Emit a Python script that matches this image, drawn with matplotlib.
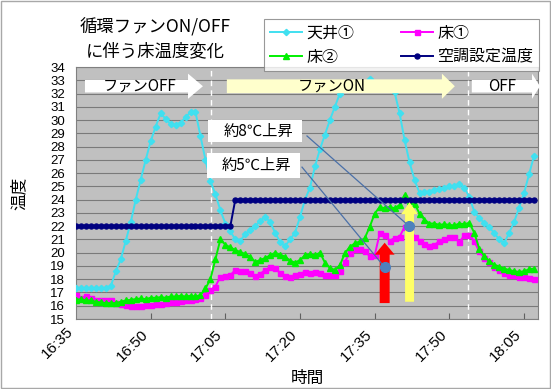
import numpy as np
import matplotlib
matplotlib.use("Agg")
import matplotlib.pyplot as plt
from matplotlib import font_manager
from matplotlib.patches import Polygon, Rectangle

plt.rcParams['font.family'] = ['Noto Sans CJK JP', 'DejaVu Sans']
installed = {f.name for f in font_manager.fontManager.ttflist}
narrow = 'Liberation Sans Narrow' if 'Liberation Sans Narrow' in installed else 'Liberation Sans'

# 1-minute readings starting 16:35
minutes = np.arange(93)
tick_minutes = [0, 15, 30, 45, 60, 75, 90]
tick_labels = ["16:35", "16:50", "17:05", "17:20", "17:35", "17:50", "18:05"]

ceiling1 = [17.3, 17.3, 17.3, 17.3, 17.3, 17.3, 17.3, 17.5, 18.6, 19.5,
            20.9, 22.3, 24.0, 25.5, 27.0, 28.4, 29.5, 30.5, 30.1, 29.7,
            29.6, 29.8, 30.2, 30.6, 30.6, 28.8, 27.0, 25.4, 24.4, 23.2,
            22.2, 21.6, 21.0, 20.9, 21.4, 21.7, 22.0, 22.4, 22.7, 22.3,
            21.5, 20.8, 20.5, 21.0, 21.5, 22.7, 24.0, 24.9, 26.5, 27.8,
            28.9, 30.0, 31.0, 32.0, 32.5, 32.6, 32.6, 32.7, 32.6, 33.1,
            32.7, 32.6, 32.5, 32.4, 32.1, 30.5, 28.5, 26.8, 25.5, 24.5,
            24.6, 24.6, 24.7, 24.8, 24.9, 25.0, 25.0, 25.2, 24.9, 24.2,
            23.1, 22.6, 22.25, 21.9, 21.5, 21.0, 20.7, 21.5, 22.3, 23.4,
            24.5, 25.9, 27.3]
floor1 = [16.8, 16.6, 16.7, 16.55, 16.45, 16.45, 16.45, 16.4, 16.2, 16.1,
          16.05, 16.0, 16.0, 16.0, 16.05, 16.05, 16.1, 16.15, 16.2, 16.25,
          16.3, 16.35, 16.4, 16.45, 16.5, 16.55, 16.8, 17.2, 17.45, 18.2,
          18.25, 18.3, 18.7, 18.65, 18.6, 18.45, 18.25, 18.4, 18.7, 18.9,
          18.85, 18.45, 18.25, 18.2, 18.3, 18.4, 18.55, 18.45, 18.55, 18.45,
          18.35, 18.3, 18.3, 18.6, 19.3, 20.0, 20.3, 20.3, 20.1, 19.75,
          19.8, 21.45, 21.3, 20.9, 21.1, 21.2, 21.95, 21.95, 21.2, 20.85,
          20.65, 20.5, 20.6, 20.85, 21.0, 21.2, 21.2, 20.8, 21.3, 21.35,
          20.85, 20.1, 19.6, 19.3, 18.95, 18.7, 18.5, 18.35, 18.3, 18.2,
          18.2, 18.1, 18.05]
floor2 = [16.45, 16.5, 16.4, 16.4, 16.3, 16.25, 16.2, 16.2, 16.2, 16.3,
          16.4, 16.45, 16.5, 16.55, 16.5, 16.6, 16.6, 16.65, 16.6, 16.7,
          16.7, 16.75, 16.7, 16.75, 16.7, 16.8, 17.3, 18.0, 19.5, 21.0,
          20.6, 20.4, 20.2, 20.05, 19.9, 19.7, 19.3, 19.45, 19.6, 19.8,
          20.0, 19.85, 19.7, 19.4, 19.25, 19.45, 19.8, 19.9, 19.8, 20.0,
          19.25, 18.85, 18.7, 19.05, 19.95, 20.45, 20.7, 20.85, 21.1, 21.95,
          22.95, 23.45, 23.35, 23.45, 23.35, 23.6, 24.35, 23.9, 23.7, 22.95,
          22.5, 22.2, 22.2, 22.1, 22.15, 22.1, 22.05, 22.2, 22.15, 22.25,
          21.5, 20.3, 19.75, 19.35, 19.1, 18.95, 18.8, 18.7, 18.6, 18.55,
          18.6, 18.75, 18.8]
setpoint = [22, 22, 22, 22, 22, 22, 22, 22, 22, 22, 22, 22, 22, 22, 22, 22,
            22, 22, 22, 22, 22, 22, 22, 22, 22, 22, 22, 22, 22, 22, 22, 22,
            24, 24, 24, 24, 24, 24, 24, 24, 24, 24, 24, 24, 24, 24, 24, 24,
            24, 24, 24, 24, 24, 24, 24, 24, 24, 24, 24, 24, 24, 24, 24, 24,
            24, 24, 24, 24, 24, 24, 24, 24, 24, 24, 24, 24, 24, 24, 24, 24,
            24, 24, 24, 24, 24, 24, 24, 24, 24, 24, 24, 24, 24]

fan_switch = [27.1, 78.7]  # fan on / fan off

W, H = 551, 389
fig = plt.figure(figsize=(W / 100, H / 100), dpi=100)
fig.patches.append(Rectangle((0.002, 0.003), 0.996, 0.994, transform=fig.transFigure,
                             fill=False, edgecolor='#A8A8A8', lw=1))

ax = fig.add_axes([76 / W, 1 - 319 / H, (538 - 76) / W, (319 - 67) / H])
ax.set_facecolor('#C0C0C0')
ax.set_xlim(0, 92.8)
ax.set_ylim(15, 34)
ax.set_yticks(range(15, 35))
ax.grid(axis='y', color='#7A7A7A', lw=0.8)
ax.set_axisbelow(True)
for s in ax.spines.values():
    s.set_color('#808080')
ax.tick_params(axis='y', length=0, pad=8)
ax.tick_params(axis='x', direction='in', length=4, color='#606060', pad=6)
ax.set_xticks(tick_minutes[1:])
ax.set_xticklabels(tick_labels[1:], rotation=45, ha='right', fontsize=11, family=narrow)
for lab in ax.get_yticklabels():
    lab.set_fontsize(9.5)
    lab.set_family(narrow)
# 16:35 sits at the left edge (no tick mark)
ax.text(0, -0.02, tick_labels[0], transform=ax.get_xaxis_transform(), rotation=45,
        ha='right', va='top', fontsize=11, family=narrow)

for xs in fan_switch:
    ax.axvline(xs, color='white', lw=1, ls=(0, (4, 3)), zorder=2.5)

l1, = ax.plot(minutes, ceiling1, color='#40E0F0', marker='D', ms=3.2, lw=1.4, zorder=3)
l2, = ax.plot(minutes, floor1, color='#FF00FF', marker='s', ms=3.6, lw=1.4, zorder=3)
l3, = ax.plot(minutes, floor2, color='#00F000', marker='^', ms=4.0, lw=1.4, zorder=3)
l4, = ax.plot(minutes, setpoint, color='#000080', marker='o', ms=3.6, lw=1.4, zorder=3)

# banner arrows across the top
def hbanner(x0, x1, head, yc, bh, hh, color, text, tx):
    pts = [(x0, yc - bh), (x1 - head, yc - bh), (x1 - head, yc - hh), (x1, yc),
           (x1 - head, yc + hh), (x1 - head, yc + bh), (x0, yc + bh)]
    ax.add_patch(Polygon(pts, closed=True, facecolor=color, edgecolor='none',
                         zorder=5, clip_on=False))
    ax.text(tx, yc, text, ha='center', va='center', fontsize=11, zorder=6)

yc = 32.55
hbanner(1.8, 25.5, 3.0, yc, 0.47, 0.95, 'white', 'ファンOFF', 12.7)
hbanner(30.3, 76.1, 2.6, yc, 0.52, 0.95, '#FFFFCC', 'ファンON', 51.4)
hbanner(79.5, 93.2, 1.6, yc, 0.47, 0.95, 'white', 'OFF', 85.5)

def varrow(xc, y0, y1, head, bw, hw, color):
    pts = [(xc - bw, y0), (xc - bw, y1 - head), (xc - hw, y1 - head), (xc, y1),
           (xc + hw, y1 - head), (xc + bw, y1 - head), (xc + bw, y0)]
    ax.add_patch(Polygon(pts, closed=True, facecolor=color, edgecolor='none', zorder=4))

varrow(62.0, 16.2, 20.75, 0.9, 1.0, 2.0, '#FF0000')
varrow(67.0, 16.3, 23.8, 0.9, 0.9, 1.7, '#FFFF66')

# callouts
for (bx0, bx1, by0, by1, txt, sx, sy, px, py) in [
        (26.5, 45.4, 28.35, 30.0, '約8℃上昇', 46.4, 28.8, 66.9, 22.0),
        (26.3, 45.0, 25.63, 27.5, '約5℃上昇', 45.4, 26.45, 62.0, 18.9)]:
    ax.add_patch(Rectangle((bx0, by0), bx1 - bx0, by1 - by0, facecolor='white',
                           edgecolor='none', zorder=5))
    ax.text((bx0 + bx1) / 2 + 0.6, (by0 + by1) / 2, txt, ha='center', va='center',
            fontsize=11, zorder=6)
    ax.plot([sx, px], [sy, py], color='#4A70A8', lw=0.9, zorder=6)
    ax.plot(px, py, 'o', color='#4F81BD', ms=7, zorder=7)

ax.set_xlabel('時間', fontsize=12, labelpad=4)
ax.set_ylabel('温度', fontsize=12, labelpad=16)

fig.text(155 / W, 1 - 27 / H, '循環ファンON/OFF', ha='center', va='center', fontsize=12.5)
fig.text(155 / W, 1 - 51 / H, 'に伴う床温度変化', ha='center', va='center', fontsize=12.5)

leg = fig.legend([l1, l3, l2, l4], ['天井①', '床②', '床①', '空調設定温度'],
                 ncol=2, loc='upper left', bbox_to_anchor=(256 / W, 1 - 11 / H),
                 fontsize=11.5, frameon=True, fancybox=False, edgecolor='#808080',
                 handlelength=2.0, handletextpad=0.3, columnspacing=2.9,
                 labelspacing=0.45, borderpad=0.35, markerscale=1.0)
leg.get_frame().set_linewidth(0.8)

fig.savefig('out.png', dpi=100)
